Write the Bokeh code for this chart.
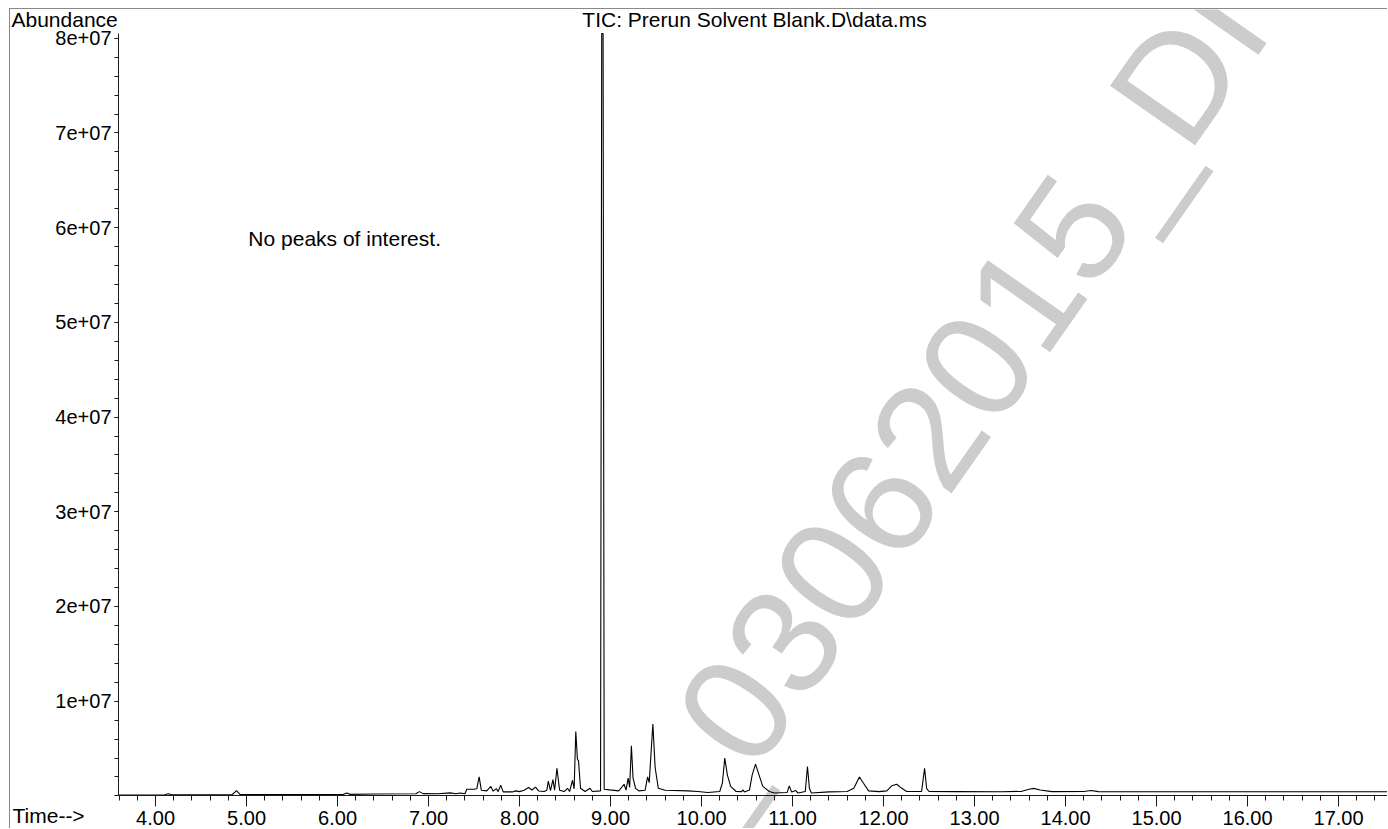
from bokeh.plotting import figure
from bokeh.models import ColumnDataSource, Range1d, FixedTicker, Label
from bokeh.embed import file_html
from bokeh.resources import INLINE

# Total ion chromatogram trace: retention time (min) and abundance (millions of counts).
# The solvent peak near 8.91 min is off scale, so it is recorded at the top of the axis.
time_min = [
    3.59, 3.80, 4.10, 4.14, 4.18, 4.50, 4.84, 4.89, 4.93, 5.30, 5.70, 6.06, 6.10, 6.14,
    6.40, 6.86, 6.90, 6.94, 7.10, 7.24, 7.30, 7.35, 7.40, 7.42, 7.50, 7.53, 7.556, 7.58,
    7.64, 7.684, 7.71, 7.745, 7.765, 7.793, 7.82, 7.92, 7.96, 8.00, 8.05, 8.10, 8.135,
    8.175, 8.21, 8.27, 8.30, 8.316, 8.34, 8.367, 8.385, 8.411, 8.44, 8.49, 8.527, 8.55,
    8.582, 8.60, 8.618, 8.636, 8.648, 8.67, 8.72, 8.775, 8.80, 8.89, 8.903, 8.918, 8.93,
    8.99, 9.09, 9.149, 9.17, 9.193, 9.21, 9.229, 9.247, 9.275, 9.31, 9.38, 9.407, 9.425,
    9.465, 9.49, 9.525, 9.60, 9.85, 9.96, 10.07, 10.20, 10.229, 10.255, 10.284, 10.32,
    10.38, 10.44, 10.455, 10.47, 10.527, 10.556, 10.593, 10.625, 10.673, 10.745, 10.80,
    10.94, 10.964, 10.99, 11.036, 11.06, 11.14, 11.164, 11.185, 11.207, 11.40, 11.60,
    11.673, 11.735, 11.78, 11.836, 11.95, 12.036, 12.09, 12.145, 12.20, 12.255, 12.418,
    12.451, 12.473, 12.50, 12.80, 13.30, 13.52, 13.60, 13.65, 13.72, 13.85, 14.20, 14.28,
    14.36, 15.00, 16.00, 17.00, 17.55,
]
abundance_millions = [
    0.10, 0.10, 0.12, 0.22, 0.12, 0.12, 0.12, 0.55, 0.13, 0.14, 0.15, 0.15, 0.30, 0.16,
    0.20, 0.22, 0.45, 0.24, 0.22, 0.32, 0.22, 0.30, 0.22, 0.70, 0.70, 0.75, 2.00, 0.60,
    0.53, 1.00, 0.50, 0.77, 0.45, 1.13, 0.42, 0.42, 0.53, 0.45, 0.60, 0.88, 0.62,
    0.92, 0.52, 0.46, 0.60, 1.55, 0.55, 1.72, 0.60, 2.92, 0.60, 0.46, 0.80, 0.46,
    1.65, 0.75, 6.80, 3.87, 3.70, 0.80, 0.46, 0.80, 0.46, 0.53, 80.5, 80.5, 0.70,
    0.63, 0.53, 1.23, 0.60, 1.87, 0.90, 5.30, 1.90, 0.80, 0.53, 0.60, 2.00, 1.40,
    7.60, 3.00, 0.80, 0.60, 0.53, 0.46, 0.35, 0.46, 1.34, 4.00, 2.20, 1.00,
    0.46, 0.45, 0.63, 0.42, 0.63, 2.20, 3.35, 2.40, 1.00, 0.46, 0.30,
    0.35, 1.06, 0.40, 0.56, 0.30, 0.46, 3.10, 0.80, 0.30, 0.42, 0.46,
    0.80, 2.00, 1.34, 0.53, 0.45, 0.53, 1.06, 1.23, 0.80, 0.46, 0.46,
    2.92, 0.80, 0.46, 0.45, 0.44, 0.48, 0.70, 0.79, 0.62, 0.45, 0.46, 0.57,
    0.45, 0.44, 0.43, 0.43, 0.43,
]

x_major = [4.0, 5.0, 6.0, 7.0, 8.0, 9.0, 10.0, 11.0, 12.0, 13.0, 14.0, 15.0, 16.0, 17.0]
x_labels = ["4.00", "5.00", "6.00", "7.00", "8.00", "9.00", "10.00", "11.00", "12.00",
            "13.00", "14.00", "15.00", "16.00", "17.00"]
y_major = [1e7, 2e7, 3e7, 4e7, 5e7, 6e7, 7e7, 8e7]
y_labels = ["1e+07", "2e+07", "3e+07", "4e+07", "5e+07", "6e+07", "7e+07", "8e+07"]

T_START, T_END = 3.593, 17.549     # extent of the time axis
A_TOP = 8.05e7                     # top of the abundance axis

FONT = "Liberation Sans"
TICK_FS = "20px"
CAP_FS = "21px"
INK = "#1a1a1a"

src = ColumnDataSource(data=dict(
    t=time_min,
    a=[v * 1e6 for v in abundance_millions],
))

# The frame fills the whole canvas; the axes sit at fixed positions inside it so
# that the corner captions and the stamp can share the same drawing area.
p = figure(
    width=1378, height=820,
    output_backend="svg", toolbar_location=None,
    x_range=Range1d(2.406, T_END), y_range=Range1d(-3.55e6, 8.304e7),
    min_border_left=0, min_border_right=0, min_border_top=0, min_border_bottom=0,
)
p.title.visible = False
p.styles = {
    "margin-left": "9px", "margin-top": "8px",
    "border-left": "1px solid #8a8a8a", "border-top": "1px solid #8a8a8a",
}
p.outline_line_color = None
p.background_fill_color = "white"
p.border_fill_color = "white"
p.xgrid.visible = False
p.ygrid.visible = False

# time axis
xa = p.xaxis[0]
xa.fixed_location = 0
xa.bounds = (T_START, T_END)
xa.ticker = FixedTicker(ticks=x_major,
                        minor_ticks=[round(3.6 + 0.2 * i, 1) for i in range(70)])
xa.major_label_overrides = dict(zip(x_major, x_labels))
xa.major_tick_in = 0
xa.major_tick_out = 11
xa.minor_tick_in = 0
xa.minor_tick_out = 5
xa.major_label_standoff = 4
# abundance axis
ya = p.yaxis[0]
ya.fixed_location = T_START
ya.bounds = (0, A_TOP)
ya.ticker = FixedTicker(ticks=y_major, minor_ticks=[2e6 * i for i in range(41)])
ya.major_label_overrides = dict(zip(y_major, y_labels))
ya.major_tick_in = 0
ya.major_tick_out = 4
ya.minor_tick_in = 0
ya.minor_tick_out = 4
ya.major_label_standoff = 3

for ax in (xa, ya):
    ax.axis_line_color = INK
    ax.major_tick_line_color = INK
    ax.minor_tick_line_color = INK
    ax.major_label_text_font = FONT
    ax.major_label_text_font_size = TICK_FS
    ax.major_label_text_color = "black"

# faint diagonal sample stamp behind the trace
p.add_layout(Label(
    x=937, y=422, x_units="screen", y_units="screen",
    text="_03062015_DI", angle=0.96, text_align="center", text_baseline="middle",
    text_font=FONT, text_font_size="151px", text_color="#cccccc", level="underlay",
))

p.line("t", "a", source=src, line_color="black", line_width=1.1)

cap = dict(x_units="screen", y_units="screen", text_font=FONT, text_font_size=CAP_FS,
           text_color="black")
p.add_layout(Label(x=744, y=799, text=r"TIC: Prerun Solvent Blank.D\data.ms",
                   text_align="center", **cap))
p.add_layout(Label(x=1, y=799, text="Abundance", **cap))
p.add_layout(Label(x=2, y=3, text="Time-->", **cap))
p.add_layout(Label(x=5.02, y=5.76e7, text="No peaks of interest.",
                   text_font=FONT, text_font_size=CAP_FS, text_color="black"))

open("out.html", "w").write(file_html(p, INLINE))
